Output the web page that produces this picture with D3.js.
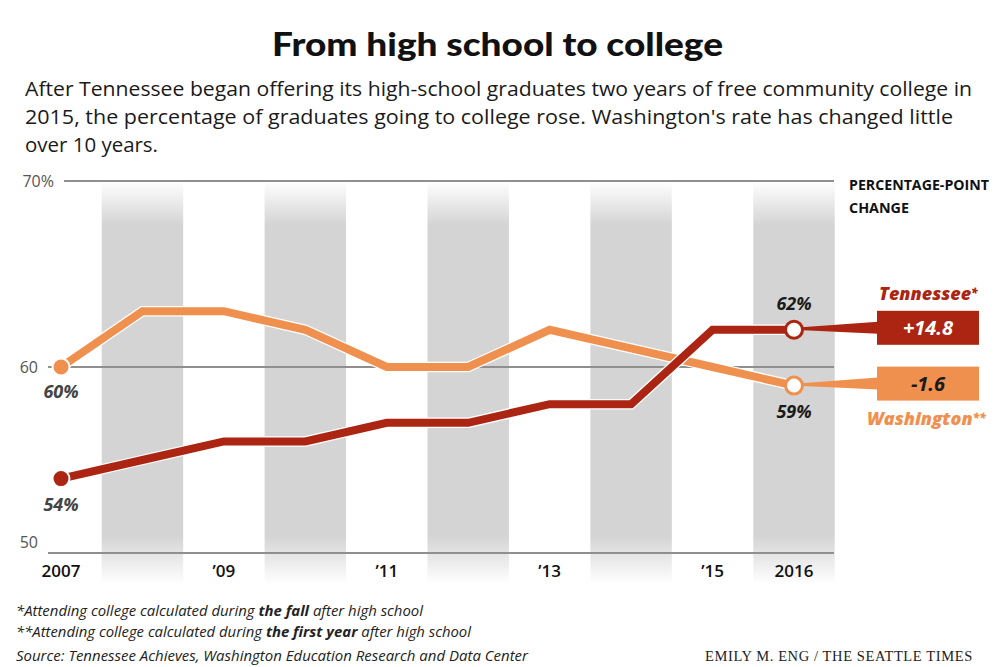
<!DOCTYPE html>
<html>
<head>
<meta charset="utf-8">
<script src="https://cdn.jsdelivr.net/npm/d3@7"></script>
<style>
  html, body { margin: 0; padding: 0; background: #fff; }
  svg { display: block; }
</style>
</head>
<body>
<svg id="chart" width="1000" height="667"></svg>
<script>
// ---- data ----
const years = [2007, 2008, 2009, 2010, 2011, 2012, 2013, 2014, 2015, 2016];
const tennessee = [54, 55, 56, 56, 57, 57, 58, 58, 62, 62];
const washington = [60, 63, 63, 62, 60, 60, 62, 61, 60, 59];
const yTicks = [50, 60, 70];
const yTickLabels = ["50", "60", "70%"];
const xTickYears = [2007, 2009, 2011, 2013, 2015, 2016];
const xTickLabels = ["2007", "\u201909", "\u201911", "\u201913", "\u201915", "2016"];
const bandYears = [2008, 2010, 2012, 2014, 2016];
const seriesNames = ["Tennessee", "Washington"];
const seriesMarks = ["*", "**"];
const changes = ["+14.8", "-1.6"];
const titleText = "From high school to college";
const subtitleLines = [
  "After Tennessee began offering its high-school graduates two years of free community college in",
  "2015, the percentage of graduates going to college rose. Washington's rate has changed little",
  "over 10 years."
];
const noteLines = [
  [["*Attending college calculated during ", false], ["the fall", true], [" after high school", false]],
  [["**Attending college calculated during ", false], ["the first year", true], [" after high school", false]],
  [["Source: Tennessee Achieves, Washington Education Research and Data Center", false]]
];
const credit = "EMILY M. ENG / THE SEATTLE TIMES";

// ---- styles ----
const RED = "#ab2512";
const ORANGE = "#f0904f";
const BAND = "#d4d4d4";
const GRID = "#8f8f8f";

const svg = d3.select("#chart");
const x = d3.scaleLinear().domain([2007, 2016]).range([61, 794]);
const y = d3.scaleLinear().domain([50, 70]).range([553, 181]);
const step = x(2008) - x(2007);

// gradient for bands
const defs = svg.append("defs");
const bandTop = 181, bandBottom = 584;
const grad = defs.append("linearGradient").attr("id", "bandGrad")
  .attr("gradientUnits", "userSpaceOnUse")
  .attr("x1", 0).attr("x2", 0).attr("y1", bandTop).attr("y2", bandBottom);
const h = bandBottom - bandTop;
[[0, "#ffffff"], [(225 - bandTop) / h, BAND], [(536 - bandTop) / h, BAND], [1, "#ffffff"]]
  .forEach(([o, c]) => grad.append("stop").attr("offset", o).attr("stop-color", c));

svg.append("g").selectAll("rect").data(bandYears).join("rect")
  .attr("x", d => x(d) - step / 2)
  .attr("width", step)
  .attr("y", bandTop)
  .attr("height", h)
  .attr("fill", "url(#bandGrad)");

// title and subtitle
svg.append("text").attr("x", 497.5).attr("y", 56).attr("text-anchor", "middle")
  .attr("font-family", "Lato, sans-serif").attr("font-weight", 900).attr("font-size", 33)
  .attr("fill", "#111").attr("textLength", 451).attr("lengthAdjust", "spacingAndGlyphs")
  .text(titleText);

const subLens = [947, 928, 133];
svg.append("g").selectAll("text").data(subtitleLines).join("text")
  .attr("x", 25).attr("y", (d, i) => 96 + i * 28)
  .attr("font-family", "'Open Sans', sans-serif").attr("font-size", 20.5)
  .attr("fill", "#1a1a1a")
  .attr("textLength", (d, i) => subLens[i]).attr("lengthAdjust", "spacingAndGlyphs")
  .text(d => d);

// gridlines
const gridStart = { 50: 48, 60: 48, 70: 64 };
svg.append("g").selectAll("line").data(yTicks).join("line")
  .attr("x1", d => gridStart[d]).attr("x2", 834)
  .attr("y1", d => y(d)).attr("y2", d => y(d))
  .attr("stroke", GRID).attr("stroke-width", 2);

// y tick labels
svg.append("g").selectAll("text").data(yTicks).join("text")
  .attr("x", (d, i) => i === 2 ? 54 : 38)
  .attr("y", (d, i) => i === 0 ? y(d) - 5 : y(d) + 6)
  .attr("text-anchor", "end")
  .attr("font-family", "'Open Sans', sans-serif").attr("font-size", 16)
  .attr("fill", "#555")
  .text((d, i) => yTickLabels[i]);

// x tick labels
svg.append("g").selectAll("text").data(xTickYears).join("text")
  .attr("x", d => x(d)).attr("y", 577).attr("text-anchor", "middle")
  .attr("font-family", "'Open Sans', sans-serif").attr("font-size", 17)
  .attr("font-weight", 600).attr("fill", "#111")
  .text((d, i) => xTickLabels[i]);

// lines
const line = d3.line().x((d, i) => x(years[i])).y(d => y(d));
const series = [
  { name: seriesNames[1], values: washington, color: ORANGE },
  { name: seriesNames[0], values: tennessee, color: RED }
];
const lg = svg.append("g");
series.forEach(s => {
  lg.append("path").attr("d", line(s.values)).attr("fill", "none")
    .attr("stroke", "#fff").attr("stroke-width", 10.5).attr("stroke-linejoin", "miter");
  lg.append("path").attr("d", line(s.values)).attr("fill", "none")
    .attr("stroke", s.color).attr("stroke-width", 8).attr("stroke-linejoin", "miter");
});

// connectors (wedges) and boxes
const boxX = 877, boxW = 102, boxH = 34;
const boxes = [
  { v: tennessee[9], color: RED, txt: changes[0], txtColor: "#fff", name: seriesNames[0], mark: seriesMarks[0] },
  { v: washington[9], color: ORANGE, txt: changes[1], txtColor: "#1a1a1a", name: seriesNames[1], mark: seriesMarks[1] }
];
const bg = svg.append("g");
boxes.forEach((b, i) => {
  const cy = y(b.v) - 1;
  const x0 = x(2016) + 4;
  bg.append("path")
    .attr("d", `M${x0},${cy - 1.2} L${boxX + 1},${cy - 7} L${boxX + 1},${cy + 5} L${x0},${cy + 1.2} Z`)
    .attr("fill", b.color);
  bg.append("rect").attr("x", boxX).attr("y", cy - 18).attr("width", boxW).attr("height", boxH)
    .attr("fill", b.color);
  bg.append("text").attr("x", boxX + boxW / 2).attr("y", cy + 6.5).attr("text-anchor", "middle")
    .attr("font-family", "'Open Sans', sans-serif").attr("font-weight", 700).attr("font-style", "italic")
    .attr("font-size", 20).attr("fill", b.txtColor).text(b.txt);
  const t = bg.append("text")
    .attr("x", i === 0 ? 879 : 867).attr("y", i === 0 ? 300 : 425)
    .attr("font-family", "'Open Sans', sans-serif").attr("font-weight", 800).attr("font-style", "italic")
    .attr("font-size", 18).attr("fill", b.color);
  t.append("tspan").text(b.name);
  t.append("tspan").attr("font-size", 12).attr("dy", -3).text(b.mark);
});

// start and end markers
series.forEach(s => {
  svg.append("circle").attr("cx", x(years[0])).attr("cy", y(s.values[0])).attr("r", 8.5)
    .attr("fill", s.color).attr("stroke", "#fff").attr("stroke-width", 2);
  svg.append("circle").attr("cx", x(years[9])).attr("cy", y(s.values[9])).attr("r", 8.5)
    .attr("fill", "#fff").attr("stroke", s.color).attr("stroke-width", 3);
});

// value labels
const valueLabels = [
  { yr: years[0], v: washington[0], dy: 31, color: "#444" },
  { yr: years[0], v: tennessee[0], dy: 32, color: "#444" },
  { yr: years[9], v: tennessee[9], dy: -20, color: "#1a1a1a" },
  { yr: years[9], v: washington[9], dy: 32, color: "#1a1a1a" }
];
svg.append("g").selectAll("text").data(valueLabels).join("text")
  .attr("x", d => x(d.yr)).attr("y", d => y(d.v) + d.dy).attr("text-anchor", "middle")
  .attr("font-family", "'Open Sans', sans-serif").attr("font-weight", 700).attr("font-style", "italic")
  .attr("font-size", 18).attr("fill", d => d.color)
  .text(d => d.v + "%");

// percentage-point change header
svg.append("text").attr("x", 849).attr("y", 190)
  .attr("font-family", "'Open Sans', sans-serif").attr("font-weight", 700).attr("font-size", 15)
  .attr("fill", "#111").attr("textLength", 140).attr("lengthAdjust", "spacingAndGlyphs")
  .text("PERCENTAGE-POINT");
svg.append("text").attr("x", 849).attr("y", 213)
  .attr("font-family", "'Open Sans', sans-serif").attr("font-weight", 700).attr("font-size", 15)
  .attr("fill", "#111").attr("textLength", 60).attr("lengthAdjust", "spacingAndGlyphs")
  .text("CHANGE");

// notes
const noteY = [616, 637, 661];
const noteLens = [407, 455, 512];
noteLines.forEach((parts, i) => {
  const t = svg.append("text").attr("x", 16).attr("y", noteY[i])
    .attr("font-family", "'Open Sans', sans-serif").attr("font-style", "italic")
    .attr("font-size", 14.5).attr("fill", "#222")
    .attr("textLength", noteLens[i]).attr("lengthAdjust", "spacingAndGlyphs");
  parts.forEach(([s, b]) => t.append("tspan").attr("font-weight", b ? 700 : 400).text(s));
});

svg.append("text").attr("x", 705).attr("y", 661)
  .attr("font-family", "'Liberation Serif', serif").attr("font-size", 14.5)
  .attr("letter-spacing", 0.8)
  .attr("fill", "#222").attr("textLength", 268).attr("lengthAdjust", "spacing")
  .text(credit);
</script>
</body>
</html>
